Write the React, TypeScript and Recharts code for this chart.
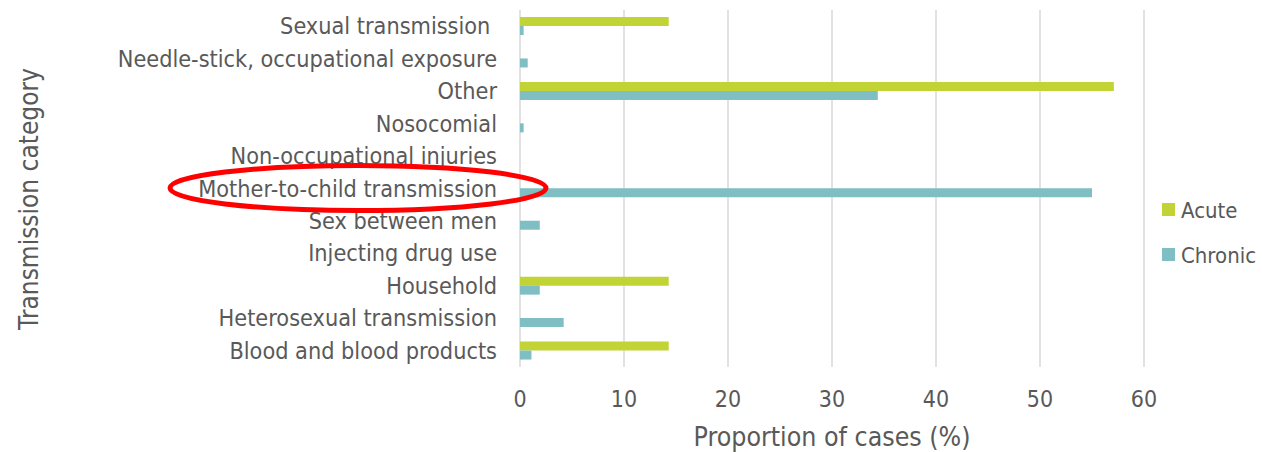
import React from "react";
import { BarChart, Bar, XAxis, YAxis, CartesianGrid } from "recharts";

const categories = [
  "Sexual transmission ",
  "Needle-stick, occupational exposure",
  "Other",
  "Nosocomial",
  "Non-occupational injuries",
  "Mother-to-child transmission",
  "Sex between men",
  "Injecting drug use",
  "Household",
  "Heterosexual transmission",
  "Blood and blood products",
];
const acute = [14.3, 0, 57.1, 0, 0, 0, 0, 0, 14.3, 0, 14.3];
const chronic = [0.35, 0.74, 34.4, 0.35, 0, 55.0, 1.9, 0, 1.9, 4.2, 1.1];
const xTicks = [0, 10, 20, 30, 40, 50, 60];
const seriesNames = ["Acute", "Chronic"];

const data = categories.map((name, i) => ({ name, acute: acute[i], chronic: chronic[i] }));

const TEXT = "#595959";
const ACUTE = "#c2d336";
const CHRONIC = "#7fbec3";
const FONT = "'DejaVu Sans', sans-serif";

function YTick({ y, payload }: any) {
  return (
    <text
      transform={`translate(497, ${y + 8}) scale(0.91, 1)`}
      textAnchor="end"
      fill={TEXT}
      fontSize={23}
      fontFamily={FONT}
      style={{ whiteSpace: "pre" }}
    >
      {payload.value}
    </text>
  );
}

function XTick({ x, payload }: any) {
  return (
    <text
      transform={`translate(${x}, 407) scale(0.9, 1)`}
      textAnchor="middle"
      fill={TEXT}
      fontSize={23}
      fontFamily={FONT}
    >
      {payload.value}
    </text>
  );
}

export default function App() {
  const legendColors = [ACUTE, CHRONIC];
  return (
    <div style={{ position: "absolute", left: 0, top: 0, width: 1262, height: 452, background: "#fff" }}>
      <BarChart
        width={1262}
        height={452}
        data={data}
        layout="vertical"
        margin={{ top: 10, right: 118, bottom: 0, left: 0 }}
        barSize={9}
        barGap={0}
      >
        <CartesianGrid horizontal={false} stroke="#d9d9d9" strokeWidth={1.5} />
        <XAxis
          type="number"
          domain={[0, 60]}
          ticks={xTicks}
          height={85}
          axisLine={false}
          tickLine={false}
          tick={<XTick />}
          interval={0}
        />
        <YAxis
          type="category"
          dataKey="name"
          width={520}
          axisLine={false}
          tickLine={false}
          tick={<YTick />}
          interval={0}
        />
        <Bar dataKey="acute" name="Acute" fill={ACUTE} isAnimationActive={false} />
        <Bar dataKey="chronic" name="Chronic" fill={CHRONIC} isAnimationActive={false} />
      </BarChart>
      <svg
        width={1262}
        height={452}
        style={{ position: "absolute", left: 0, top: 0, pointerEvents: "none" }}
      >
        <text
          transform="translate(38, 199) rotate(-90) scale(0.9, 1)"
          textAnchor="middle"
          fill={TEXT}
          fontSize={26}
          fontFamily={FONT}
        >
          Transmission category
        </text>
        <text
          transform="translate(832, 446) scale(0.9, 1)"
          textAnchor="middle"
          fill={TEXT}
          fontSize={26.5}
          fontFamily={FONT}
        >
          Proportion of cases (%)
        </text>
        {seriesNames.map((label, i) => (
          <g key={label}>
            <rect x={1162} y={203 + i * 45} width={13} height={13} fill={legendColors[i]} />
            <text
              transform={`translate(1181, ${218 + i * 45}) scale(0.9, 1)`}
              fill={TEXT}
              fontSize={22}
              fontFamily={FONT}
            >
              {label}
            </text>
          </g>
        ))}
        <ellipse cx={358} cy={188} rx={188} ry={22.5} fill="none" stroke="#ff0000" strokeWidth={5} />
      </svg>
    </div>
  );
}
